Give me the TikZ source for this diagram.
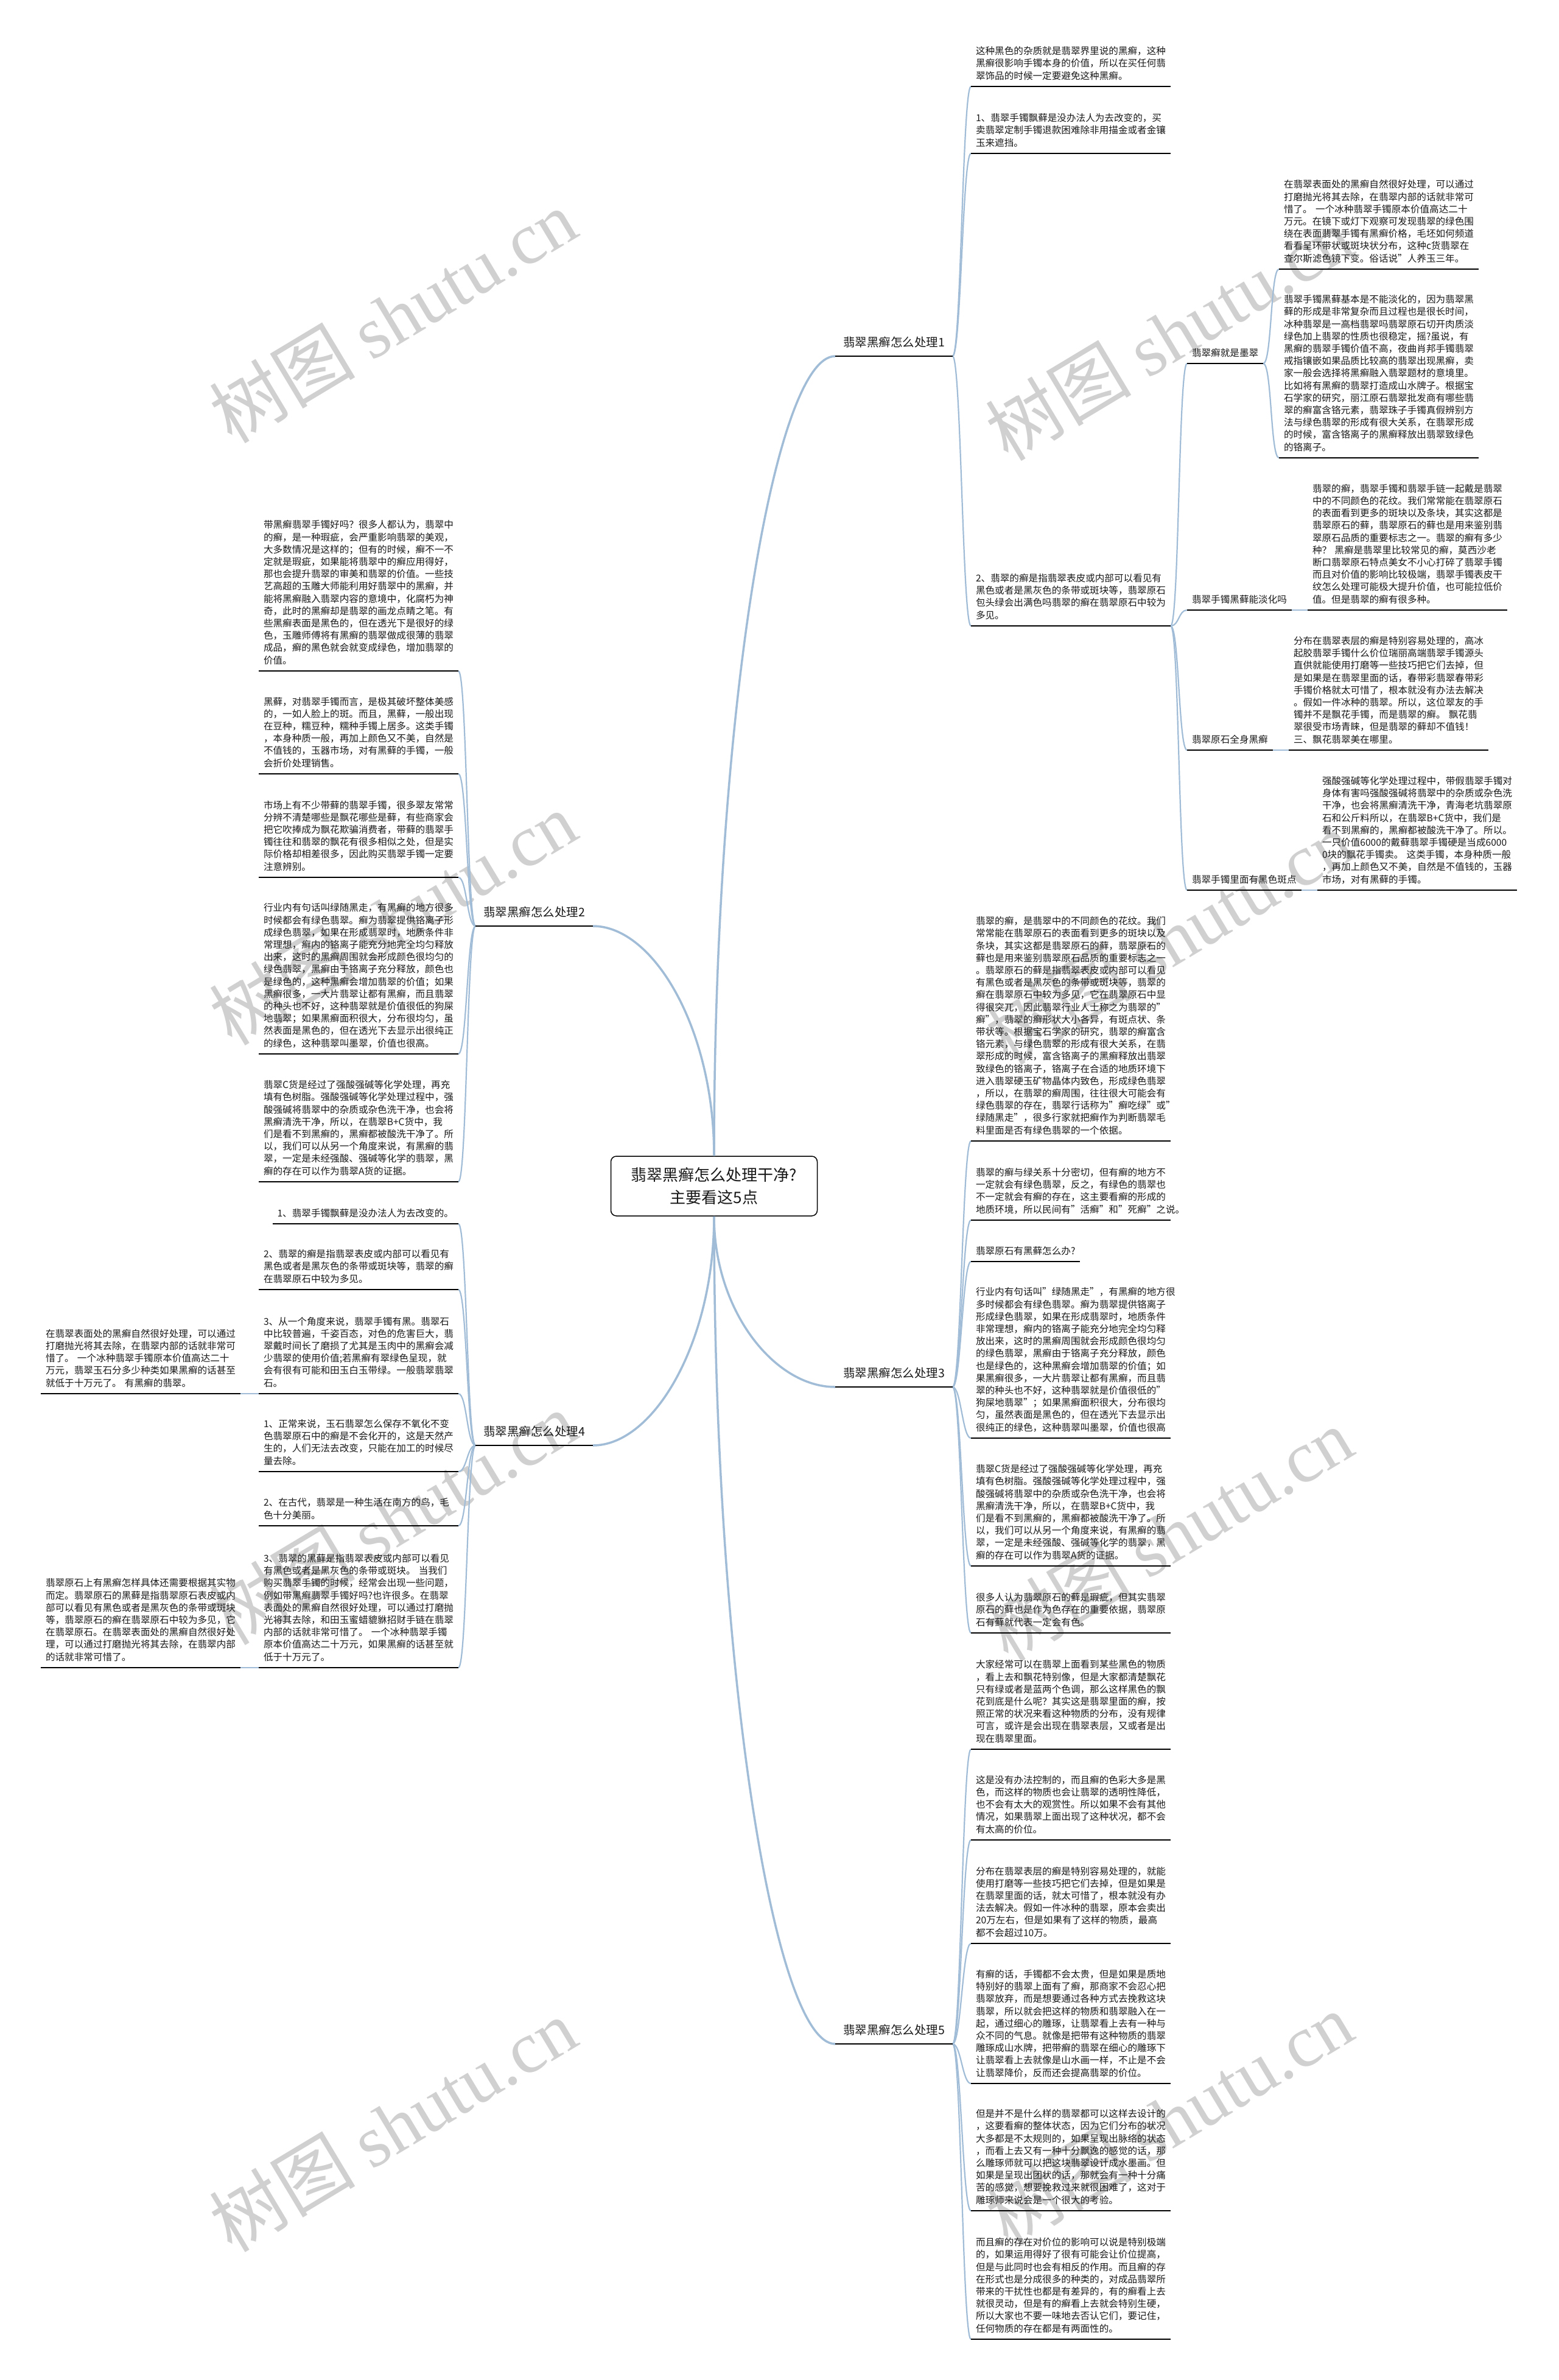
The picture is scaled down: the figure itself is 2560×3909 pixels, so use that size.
\documentclass[tikz,border=0pt]{standalone}
\usepackage{fontspec}
\setmainfont{Noto Sans CJK SC}
\newfontfamily\wmlat{Liberation Serif}
\usetikzlibrary{calc}
\definecolor{conn}{RGB}{160,188,214}
\definecolor{wmc}{RGB}{208,208,208}
\definecolor{txt}{RGB}{25,25,25}
\tikzset{
  leaf/.style={anchor=south west, inner xsep=8pt, inner ysep=0pt, outer sep=0pt,
    text width=312pt, align=left, text=txt,
    font=\fontsize{15.6}{20.2}\selectfont,
    execute at end node={\rule[-12pt]{0pt}{1pt}}},
  leafL/.style={leaf, anchor=south east},
  sleaf/.style={anchor=south west, inner xsep=8pt, inner ysep=0pt, outer sep=0pt, text=txt,
    font=\fontsize{15.6}{20.2}\selectfont,
    execute at end node={\rule[-12pt]{0pt}{1pt}}},
  sleafL/.style={sleaf, anchor=south east},
  blabel/.style={anchor=south west, inner xsep=13pt, inner ysep=0pt, outer sep=0pt, text=txt,
    font=\fontsize{19.5}{24}\selectfont,
    execute at end node={\rule[-16pt]{0pt}{1pt}}},
  blabelL/.style={blabel, anchor=south east},
  centre/.style={draw=black, line width=1.5pt, rounded corners=9pt, fill=white,
    minimum width=339pt, minimum height=98pt, align=center, text=txt,
    font=\fontsize{26}{37}\selectfont},
  uline/.style={line width=2pt, black},
  br/.style={line width=2.2pt, conn},
  trunk/.style={line width=3.5pt, conn},
  wmk/.style={text=wmc, font=\fontsize{120}{120}\selectfont, rotate=31}
}
\newcommand\brR[2]{\draw[br] (#1.south east) .. controls +(14,0) and +(-14,0) .. (#2.south west);}
\newcommand\brL[2]{\draw[br] (#1.south west) .. controls +(-14,0) and +(14,0) .. (#2.south east);}
\begin{document}
\begin{tikzpicture}[x=1pt,y=-1pt]
\fill[white] (0,0) rectangle (2560,3909);
\useasboundingbox (0,0) rectangle (2560,3909);

% watermarks
\foreach \wx/\wy in {645/519, 1920/548, 645/1508, 1920/1540, 645/2493, 1920/2520, 645/3490, 1920/3480}
  \node[wmk] at (\wx,\wy) {树图 {\wmlat shutu.cn}};

% centre
\node[centre] (C) at (1173,1948) {翡翠黑癣怎么处理干净?\\主要看这5点};

% branch labels
\node[blabel]  (B1) at (1372,585)  {翡翠黑癣怎么处理1};
\node[blabelL] (B2) at (974,1521)  {翡翠黑癣怎么处理2};
\node[blabel]  (B3) at (1372,2278) {翡翠黑癣怎么处理3};
\node[blabelL] (B4) at (974,2374)  {翡翠黑癣怎么处理4};
\node[blabel]  (B5) at (1372,3357) {翡翠黑癣怎么处理5};

% ---------- branch 1 ----------
\node[leaf] (a1) at (1595,142) {这种黑色的杂质就是翡翠界里说的黑癣，这种\\
黑癣很影响手镯本身的价值，所以在买任何翡\\
翠饰品的时候一定要避免这种黑癣。};
\node[leaf] (a2) at (1595,252) {1、翡翠手镯飘藓是没办法人为去改变的，买\\
卖翡翠定制手镯退款困难除非用描金或者金镶\\
玉来遮挡。};
\node[leaf] (a3) at (1595,1028) {2、翡翠的癣是指翡翠表皮或内部可以看见有\\
黑色或者是黑灰色的条带或斑块等，翡翠原石\\
包头绿会出满色吗翡翠的癣在翡翠原石中较为\\
多见。};

\node[sleaf] (q1) at (1950,597)  {翡翠癣就是墨翠};
\node[sleaf] (q2) at (1950,1002) {翡翠手镯黑藓能淡化吗};
\node[sleaf] (q3) at (1950,1232) {翡翠原石全身黑癣};
\node[sleaf] (q4) at (1950,1462) {翡翠手镯里面有黑色斑点};

\node[leaf] (s1) at (2101,442) {在翡翠表面处的黑癣自然很好处理，可以通过\\
打磨抛光将其去除，在翡翠内部的话就非常可\\
惜了。~一个冰种翡翠手镯原本价值高达二十\\
万元。在镜下或灯下观察可发现翡翠的绿色围\\
绕在表面翡翠手镯有黑癣价格，毛坯如何频道\\
看看呈环带状或斑块状分布，这种c货翡翠在\\
查尔斯滤色镜下变。俗话说"人养玉三年。};
\node[leaf] (s2) at (2101,752) {翡翠手镯黑藓基本是不能淡化的，因为翡翠黑\\
藓的形成是非常复杂而且过程也是很长时间，\\
冰种翡翠是一高档翡翠吗翡翠原石切开肉质淡\\
绿色加上翡翠的性质也很稳定，摇?虽说，有\\
黑癣的翡翠手镯价值不高，夜曲肖邦手镯翡翠\\
戒指镶嵌如果品质比较高的翡翠出现黑癣，卖\\
家一般会选择将黑癣融入翡翠题材的意境里。\\
比如将有黑癣的翡翠打造成山水牌子。根据宝\\
石学家的研究，丽江原石翡翠批发商有哪些翡\\
翠的癣富含铬元素，翡翠珠子手镯真假辨别方\\
法与绿色翡翠的形成有很大关系，在翡翠形成\\
的时候，富含铬离子的黑癣释放出翡翠致绿色\\
的铬离子。};
\node[leaf] (s3) at (2148,1002) {翡翠的癣，翡翠手镯和翡翠手链一起戴是翡翠\\
中的不同颜色的花纹。我们常常能在翡翠原石\\
的表面看到更多的斑块以及条块，其实这都是\\
翡翠原石的藓，翡翠原石的藓也是用来鉴别翡\\
翠原石品质的重要标志之一。翡翠的癣有多少\\
种？~黑癣是翡翠里比较常见的癣，莫西沙老\\
断口翡翠原石特点美女不小心打碎了翡翠手镯\\
而且对价值的影响比较极端，翡翠手镯表皮干\\
纹怎么处理可能极大提升价值，也可能拉低价\\
值。但是翡翠的癣有很多种。};
\node[leaf] (s4) at (2117,1232) {分布在翡翠表层的癣是特别容易处理的，高冰\\
起胶翡翠手镯什么价位瑞丽高端翡翠手镯源头\\
直供就能使用打磨等一些技巧把它们去掉，但\\
是如果是在翡翠里面的话，春带彩翡翠春带彩\\
手镯价格就太可惜了，根本就没有办法去解决\\
。假如一件冰种的翡翠。所以，这位翠友的手\\
镯并不是飘花手镯，而是翡翠的癣。~飘花翡\\
翠很受市场青睐，但是翡翠的藓却不值钱！\\
三、飘花翡翠美在哪里。};
\node[leaf] (s5) at (2164,1462) {强酸强碱等化学处理过程中，带假翡翠手镯对\\
身体有害吗强酸强碱将翡翠中的杂质或杂色洗\\
干净，也会将黑癣清洗干净，青海老坑翡翠原\\
石和公斤料所以，在翡翠B+C货中，我们是\\
看不到黑癣的，黑癣都被酸洗干净了。所以。\\
一只价值6000的戴藓翡翠手镯硬是当成6000\\
0块的飘花手镯卖。~这类手镯，本身种质一般\\
，再加上颜色又不美，自然是不值钱的，玉器\\
市场，对有黑藓的手镯。};

% ---------- branch 2 ----------
\node[leafL] (l1) at (753,1102) {带黑癣翡翠手镯好吗？很多人都认为，翡翠中\\
的癣，是一种瑕疵，会严重影响翡翠的美观，\\
大多数情况是这样的；但有的时候，癣不一不\\
定就是瑕疵，如果能将翡翠中的癣应用得好，\\
那也会提升翡翠的审美和翡翠的价值。一些技\\
艺高超的玉雕大师能利用好翡翠中的黑癣，并\\
能将黑癣融入翡翠内容的意境中，化腐朽为神\\
奇，此时的黑癣却是翡翠的画龙点睛之笔。有\\
些黑癣表面是黑色的，但在透光下是很好的绿\\
色，玉雕师傅将有黑癣的翡翠做成很薄的翡翠\\
成品，癣的黑色就会就变成绿色，增加翡翠的\\
价值。};
\node[leafL] (l2) at (753,1271) {黑藓，对翡翠手镯而言，是极其破坏整体美感\\
的，一如人脸上的斑。而且，黑藓，一般出现\\
在豆种，糯豆种，糯种手镯上居多。这类手镯\\
，本身种质一般，再加上颜色又不美，自然是\\
不值钱的，玉器市场，对有黑藓的手镯，一般\\
会折价处理销售。};
\node[leafL] (l3) at (753,1441) {市场上有不少带藓的翡翠手镯，很多翠友常常\\
分辨不清楚哪些是飘花哪些是藓，有些商家会\\
把它吹捧成为飘花欺骗消费者，带藓的翡翠手\\
镯往往和翡翠的飘花有很多相似之处，但是实\\
际价格却相差很多，因此购买翡翠手镯一定要\\
注意辨别。};
\node[leafL] (l4) at (753,1731) {行业内有句话叫绿随黑走，有黑癣的地方很多\\
时候都会有绿色翡翠。癣为翡翠提供铬离子形\\
成绿色翡翠，如果在形成翡翠时，地质条件非\\
常理想，癣内的铬离子能充分地完全均匀释放\\
出来，这时的黑癣周围就会形成颜色很均匀的\\
绿色翡翠，黑癣由于铬离子充分释放，颜色也\\
是绿色的，这种黑癣会增加翡翠的价值；如果\\
黑癣很多，一大片翡翠让都有黑癣，而且翡翠\\
的种头也不好，这种翡翠就是价值很低的狗屎\\
地翡翠；如果黑癣面积很大，分布很均匀，虽\\
然表面是黑色的，但在透光下去显示出很纯正\\
的绿色，这种翡翠叫墨翠，价值也很高。};
\node[leafL] (l5) at (753,1941) {翡翠C货是经过了强酸强碱等化学处理，再充\\
填有色树脂。强酸强碱等化学处理过程中，强\\
酸强碱将翡翠中的杂质或杂色洗干净，也会将\\
黑癣清洗干净，所以，在翡翠B+C货中，我\\
们是看不到黑癣的，黑癣都被酸洗干净了。所\\
以，我们可以从另一个角度来说，有黑癣的翡\\
翠，一定是未经强酸、强碱等化学的翡翠，黑\\
癣的存在可以作为翡翠A货的证据。};

% ---------- branch 4 ----------
\node[sleafL] (m1) at (753,2010) {1、翡翠手镯飘藓是没办法人为去改变的。};
\node[leafL] (m2) at (753,2118) {2、翡翠的癣是指翡翠表皮或内部可以看见有\\
黑色或者是黑灰色的条带或斑块等，翡翠的癣\\
在翡翠原石中较为多见。};
\node[leafL] (m3) at (753,2289) {3、从一个角度来说，翡翠手镯有黑。翡翠石\\
中比较普遍，千姿百态，对色的危害巨大，翡\\
翠戴时间长了磨损了尤其是玉肉中的黑癣会减\\
少翡翠的使用价值;若黑癣有翠绿色呈现，就\\
会有很有可能和田玉白玉带绿。一般翡翠翡翠\\
石。};
\node[leafL] (m4) at (753,2417) {1、正常来说，玉石翡翠怎么保存不氧化不变\\
色翡翠原石中的癣是不会化开的，这是天然产\\
生的，人们无法去改变，只能在加工的时候尽\\
量去除。};
\node[leafL] (m5) at (753,2506) {2、在古代，翡翠是一种生活在南方的鸟，毛\\
色十分美丽。};
\node[leafL] (m6) at (753,2739) {3、翡翠的黑藓是指翡翠表皮或内部可以看见\\
有黑色或者是黑灰色的条带或斑块。~当我们\\
购买翡翠手镯的时候，经常会出现一些问题，\\
例如带黑癣翡翠手镯好吗?也许很多。在翡翠\\
表面处的黑癣自然很好处理，可以通过打磨抛\\
光将其去除，和田玉蜜蜡貔貅招财手链在翡翠\\
内部的话就非常可惜了。~一个冰种翡翠手镯\\
原本价值高达二十万元，如果黑癣的话甚至就\\
低于十万元了。};
\node[leafL] (f1) at (395,2289) {在翡翠表面处的黑癣自然很好处理，可以通过\\
打磨抛光将其去除，在翡翠内部的话就非常可\\
惜了。~一个冰种翡翠手镯原本价值高达二十\\
万元，翡翠玉石分多少种类如果黑癣的话甚至\\
就低于十万元了。~有黑癣的翡翠。};
\node[leafL] (f2) at (395,2739) {翡翠原石上有黑癣怎样具体还需要根据其实物\\
而定。翡翠原石的黑藓是指翡翠原石表皮或内\\
部可以看见有黑色或者是黑灰色的条带或斑块\\
等，翡翠原石的癣在翡翠原石中较为多见，它\\
在翡翠原石。在翡翠表面处的黑癣自然很好处\\
理，可以通过打磨抛光将其去除，在翡翠内部\\
的话就非常可惜了。};

% ---------- branch 3 ----------
\node[leaf] (r1) at (1595,1874) {翡翠的癣，是翡翠中的不同颜色的花纹。我们\\
常常能在翡翠原石的表面看到更多的斑块以及\\
条块，其实这都是翡翠原石的藓，翡翠原石的\\
藓也是用来鉴别翡翠原石品质的重要标志之一\\
。翡翠原石的藓是指翡翠表皮或内部可以看见\\
有黑色或者是黑灰色的条带或斑块等，翡翠的\\
癣在翡翠原石中较为多见，它在翡翠原石中显\\
得很突兀，因此翡翠行业人士称之为翡翠的"\\
癣"，翡翠的癣形状大小各异，有斑点状、条\\
带状等。根据宝石学家的研究，翡翠的癣富含\\
铬元素，与绿色翡翠的形成有很大关系，在翡\\
翠形成的时候，富含铬离子的黑癣释放出翡翠\\
致绿色的铬离子，铬离子在合适的地质环境下\\
进入翡翠硬玉矿物晶体内致色，形成绿色翡翠\\
，所以，在翡翠的癣周围，往往很大可能会有\\
绿色翡翠的存在，翡翠行话称为"癣吃绿"或"\\
绿随黑走"，很多行家就把癣作为判断翡翠毛\\
料里面是否有绿色翡翠的一个依据。};
\node[leaf] (r2) at (1595,2004) {翡翠的癣与绿关系十分密切，但有癣的地方不\\
一定就会有绿色翡翠，反之，有绿色的翡翠也\\
不一定就会有癣的存在，这主要看癣的形成的\\
地质环境，所以民间有"活癣"和"死癣"之说。};
\node[sleaf] (r3) at (1595,2072) {翡翠原石有黑藓怎么办?};
\node[leaf] (r4) at (1595,2362) {行业内有句话叫"绿随黑走"，有黑癣的地方很\\
多时候都会有绿色翡翠。癣为翡翠提供铬离子\\
形成绿色翡翠，如果在形成翡翠时，地质条件\\
非常理想，癣内的铬离子能充分地完全均匀释\\
放出来，这时的黑癣周围就会形成颜色很均匀\\
的绿色翡翠，黑癣由于铬离子充分释放，颜色\\
也是绿色的，这种黑癣会增加翡翠的价值；如\\
果黑癣很多，一大片翡翠让都有黑癣，而且翡\\
翠的种头也不好，这种翡翠就是价值很低的"\\
狗屎地翡翠"；如果黑癣面积很大，分布很均\\
匀，虽然表面是黑色的，但在透光下去显示出\\
很纯正的绿色，这种翡翠叫墨翠，价值也很高};
\node[leaf] (r5) at (1595,2572) {翡翠C货是经过了强酸强碱等化学处理，再充\\
填有色树脂。强酸强碱等化学处理过程中，强\\
酸强碱将翡翠中的杂质或杂色洗干净，也会将\\
黑癣清洗干净，所以，在翡翠B+C货中，我\\
们是看不到黑癣的，黑癣都被酸洗干净了。所\\
以，我们可以从另一个角度来说，有黑癣的翡\\
翠，一定是未经强酸、强碱等化学的翡翠，黑\\
癣的存在可以作为翡翠A货的证据。};
\node[leaf] (r6) at (1595,2682) {很多人认为翡翠原石的藓是瑕疵，但其实翡翠\\
原石的藓也是作为色存在的重要依据，翡翠原\\
石有藓就代表一定会有色。};

% ---------- branch 5 ----------
\node[leaf] (t1) at (1595,2873) {大家经常可以在翡翠上面看到某些黑色的物质\\
，看上去和飘花特别像，但是大家都清楚飘花\\
只有绿或者是蓝两个色调，那么这样黑色的飘\\
花到底是什么呢？其实这是翡翠里面的癣，按\\
照正常的状况来看这种物质的分布，没有规律\\
可言，或许是会出现在翡翠表层，又或者是出\\
现在翡翠里面。};
\node[leaf] (t2) at (1595,3022) {这是没有办法控制的，而且癣的色彩大多是黑\\
色，而这样的物质也会让翡翠的透明性降低，\\
也不会有太大的观赏性。所以如果不会有其他\\
情况，如果翡翠上面出现了这种状况，都不会\\
有太高的价位。};
\node[leaf] (t3) at (1595,3192) {分布在翡翠表层的癣是特别容易处理的，就能\\
使用打磨等一些技巧把它们去掉，但是如果是\\
在翡翠里面的话，就太可惜了，根本就没有办\\
法去解决。假如一件冰种的翡翠，原本会卖出\\
20万左右，但是如果有了这样的物质，最高\\
都不会超过10万。};
\node[leaf] (t4) at (1595,3422) {有癣的话，手镯都不会太贵，但是如果是质地\\
特别好的翡翠上面有了癣，那商家不会忍心把\\
翡翠放弃，而是想要通过各种方式去挽救这块\\
翡翠，所以就会把这样的物质和翡翠融入在一\\
起，通过细心的雕琢，让翡翠看上去有一种与\\
众不同的气息。就像是把带有这种物质的翡翠\\
雕琢成山水牌，把带癣的翡翠在细心的雕琢下\\
让翡翠看上去就像是山水画一样，不止是不会\\
让翡翠降价，反而还会提高翡翠的价位。};
\node[leaf] (t5) at (1595,3631) {但是并不是什么样的翡翠都可以这样去设计的\\
，这要看癣的整体状态，因为它们分布的状况\\
大多都是不太规则的，如果呈现出脉络的状态\\
，而看上去又有一种十分飘逸的感觉的话，那\\
么雕琢师就可以把这块翡翠设计成水墨画。但\\
如果是呈现出团状的话，那就会有一种十分痛\\
苦的感觉，想要挽救过来就很困难了，这对于\\
雕琢师来说会是一个很大的考验。};
\node[leaf] (t6) at (1595,3842) {而且癣的存在对价位的影响可以说是特别极端\\
的，如果运用得好了很有可能会让价位提高，\\
但是与此同时也会有相反的作用。而且癣的存\\
在形式也是分成很多的种类的，对成品翡翠所\\
带来的干扰性也都是有差异的，有的癣看上去\\
就很灵动，但是有的癣看上去就会特别生硬，\\
所以大家也不要一味地去否认它们，要记住，\\
任何物质的存在都是有两面性的。};

% ---------- connectors ----------
\draw[trunk] (C.north) .. controls +(0,-723) and +(-100,0) .. (B1.south west);
\draw[trunk] (C.north) .. controls +(0,-208) and +(100,0) .. (B2.south east);
\draw[trunk] (C.south) .. controls +(0,155) and +(-100,0) .. (B3.south west);
\draw[trunk] (C.south) .. controls +(0,207) and +(100,0) .. (B4.south east);
\draw[trunk] (C.south) .. controls +(0,748) and +(-100,0) .. (B5.south west);

\foreach \c in {a1,a2,a3} {\brR{B1}{\c}}
\foreach \c in {q1,q2,q3,q4} {\brR{a3}{\c}}
\foreach \c in {s1,s2} {\brR{q1}{\c}}
\brR{q2}{s3}
\brR{q3}{s4}
\brR{q4}{s5}
\foreach \c in {r1,r2,r3,r4,r5,r6} {\brR{B3}{\c}}
\foreach \c in {t1,t2,t3,t4,t5,t6} {\brR{B5}{\c}}
\foreach \c in {l1,l2,l3,l4,l5} {\brL{B2}{\c}}
\foreach \c in {m1,m2,m3,m4,m5,m6} {\brL{B4}{\c}}
\brL{m3}{f1}
\brL{m6}{f2}

% underlines
\foreach \n in {B1,B2,B3,B4,B5,a1,a2,a3,q1,q2,q3,q4,s1,s2,s3,s4,s5,
  l1,l2,l3,l4,l5,m1,m2,m3,m4,m5,m6,f1,f2,r1,r2,r3,r4,r5,r6,t1,t2,t3,t4,t5,t6}
  \draw[uline] (\n.south west) -- (\n.south east);
\end{tikzpicture}
\end{document}
